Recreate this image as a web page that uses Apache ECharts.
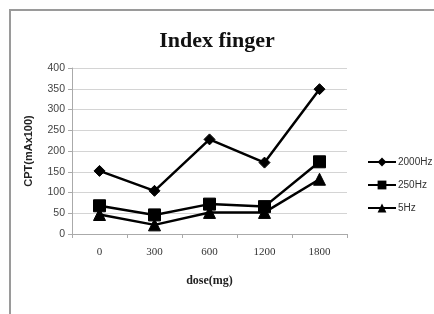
<!DOCTYPE html>
<html><head><meta charset="utf-8">
<script src="https://cdn.jsdelivr.net/npm/echarts@6/dist/echarts.min.js"></script>
<style>html,body{margin:0;padding:0;background:#fff}#c{width:434px;height:314px}</style>
</head><body><div id="c"></div>
<script>
const categories = ['0','300','600','1200','1800'];
const s2000 = [152, 104, 228, 172, 349];
const s250 = [68, 46, 72, 66, 174];
const s5 = [47, 22, 52, 52, 132];
const seriesNames = ['2000Hz','250Hz','5Hz'];
const yTicks = {min:0, max:400, interval:50};

const chart = echarts.init(document.getElementById('c'), null, {renderer:'canvas'});
function mk(name, data, symbol, size){
  return {name, type:'line', data, symbol, symbolSize:size, showAllSymbol:true,
    lineStyle:{color:'#000', width:2.5}, itemStyle:{color:'#000', borderColor:'#000'}, animation:false};
}
chart.setOption({
  animation:false,
  graphic:[{type:'rect', shape:{x:10,y:10,width:440,height:330}, style:{fill:'none', stroke:'#9a9a9a', lineWidth:2}, silent:true}],
  title:{text:'Index finger', left:'center', top:25, textStyle:{fontFamily:'Liberation Serif', fontWeight:'bold', fontSize:22, color:'#111'}},
  grid:{left:72, right:87, top:68, bottom:80},
  legend:{orient:'vertical', left:362, top:152, itemGap:13, itemWidth:28, itemHeight:11,
    textStyle:{fontFamily:'Liberation Sans', fontSize:10, color:'#333', padding:[0,0,0,-3]}, data:seriesNames},
  xAxis:{type:'category', data:categories, boundaryGap:true,
    name:'dose(mg)', nameLocation:'middle', nameGap:41,
    nameTextStyle:{fontFamily:'Liberation Serif', fontWeight:'bold', fontSize:12, color:'#222'},
    axisLine:{lineStyle:{color:'#aaa'}}, axisTick:{show:true, length:4, lineStyle:{color:'#aaa'}},
    axisLabel:{fontFamily:'Liberation Serif', fontSize:11, color:'#333', margin:13}},
  yAxis:{type:'value', min:yTicks.min, max:yTicks.max, interval:yTicks.interval,
    name:'CPT(mAx100)', nameLocation:'middle', nameGap:38,
    nameTextStyle:{fontFamily:'Liberation Sans', fontWeight:'bold', fontSize:11, color:'#222'},
    axisLine:{show:true, lineStyle:{color:'#aaa'}}, axisTick:{show:true, length:4, lineStyle:{color:'#aaa'}},
    splitLine:{lineStyle:{color:'#d4d4d4'}},
    axisLabel:{fontFamily:'Liberation Sans', fontSize:10.5, color:'#444', margin:7}},
  series:[
    mk(seriesNames[0], s2000, 'diamond', 11),
    mk(seriesNames[1], s250, 'rect', 12),
    mk(seriesNames[2], s5, 'triangle', 12)
  ]
});
</script></body></html>
